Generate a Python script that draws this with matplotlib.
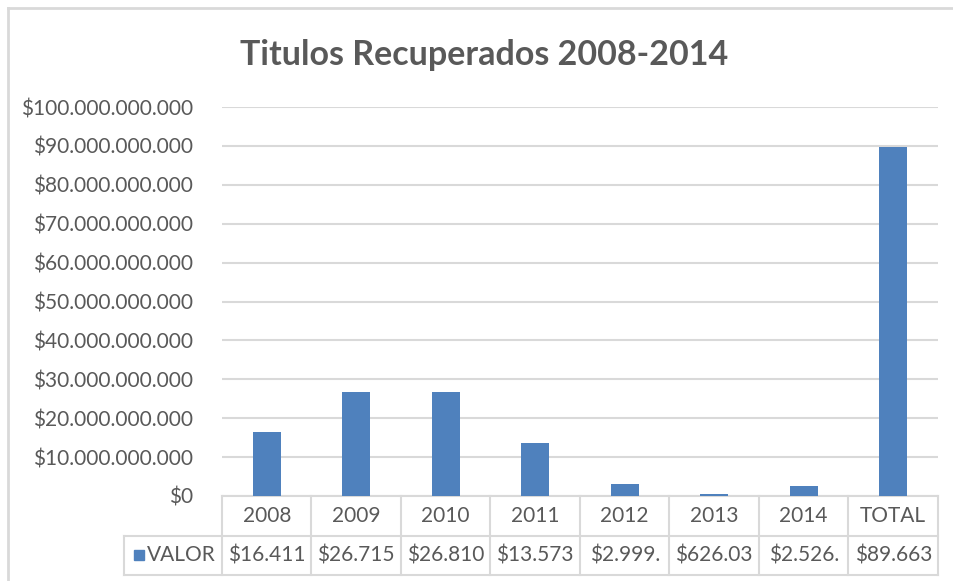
import matplotlib
matplotlib.use('Agg')
import matplotlib.pyplot as plt
from matplotlib.ticker import FuncFormatter, MultipleLocator
from matplotlib.lines import Line2D

# datos
categorias = ['2008', '2009', '2010', '2011', '2012', '2013', '2014', 'TOTAL']
valores = [16_411_000_000, 26_715_000_000, 26_810_000_000, 13_573_000_000,
           2_999_000_000, 626_030_000, 2_526_000_000, 89_663_000_000]
serie = 'VALOR'

azul = '#4f81bd'
gris_texto = '#595959'
gris_linea = '#d9d9d9'

plt.rcParams['font.family'] = ['Lato', 'DejaVu Sans']

def pesos(v, pos=None):
    return '$' + f'{v:,.0f}'.replace(',', '.')

W, H = 954, 581
fig = plt.figure(figsize=(W / 100, H / 100), dpi=100)
ax = fig.add_axes([222 / W, 1 - 496 / H, (938 - 222) / W, (496 - 107) / H])

x = list(range(len(categorias)))
ax.bar(x, valores, width=0.31, color=azul, zorder=3)
ax.set_xlim(-0.5, len(categorias) - 0.5)
ax.set_ylim(0, 100_000_000_000)
ax.yaxis.set_major_locator(MultipleLocator(10_000_000_000))
ax.yaxis.set_major_formatter(FuncFormatter(pesos))
ax.grid(axis='y', color=gris_linea, lw=1.5, zorder=0)
ax.tick_params(axis='y', length=0, pad=21, labelsize=15, labelcolor=gris_texto)
ax.set_xticks([])
for s in ax.spines.values():
    s.set_visible(False)

# tabla de datos debajo del eje
ah = 496 - 107
r1 = -39.5 / ah
r2 = -79 / ah
leg_x = -(222 - 124) / (938 - 222)
n = len(categorias)
kw = dict(transform=ax.transAxes, color=gris_linea, lw=1.5, clip_on=False)
ax.plot([0, 1], [0, 0], **kw)
ax.plot([leg_x, 1], [r1, r1], **kw)
ax.plot([leg_x, 1], [r2, r2], **kw)
ax.plot([leg_x, leg_x], [r1, r2], **kw)
for i in range(n + 1):
    ax.plot([i / n, i / n], [0, r2], **kw)

for i, (c, v) in enumerate(zip(categorias, valores)):
    xc = (i + 0.5) / n
    ax.text(xc, r1 / 2, c, transform=ax.transAxes, ha='center', va='center',
            fontsize=15, color=gris_texto)
    ax.text(xc, (r1 + r2) / 2, pesos(v)[:7], transform=ax.transAxes,
            ha='center', va='center', fontsize=15, color=gris_texto)

ax.plot([leg_x + 0.021], [(r1 + r2) / 2], marker='s', ms=7, color=azul,
        transform=ax.transAxes, clip_on=False)
ax.text(leg_x + 0.032, (r1 + r2) / 2, serie, transform=ax.transAxes,
        ha='left', va='center', fontsize=15, color=gris_texto)

fig.text(484 / W, 1 - 55 / H, 'Titulos Recuperados 2008-2014', ha='center',
         va='center', fontsize=24.5, fontweight='bold', color=gris_texto)

# borde del area del grafico
fig.add_artist(Line2D([8 / W, 8 / W], [0, 1 - 8 / H], color=gris_linea, lw=2))
fig.add_artist(Line2D([8 / W, 1], [1 - 8 / H, 1 - 8 / H], color=gris_linea, lw=2))

fig.savefig('out.png', dpi=100)
